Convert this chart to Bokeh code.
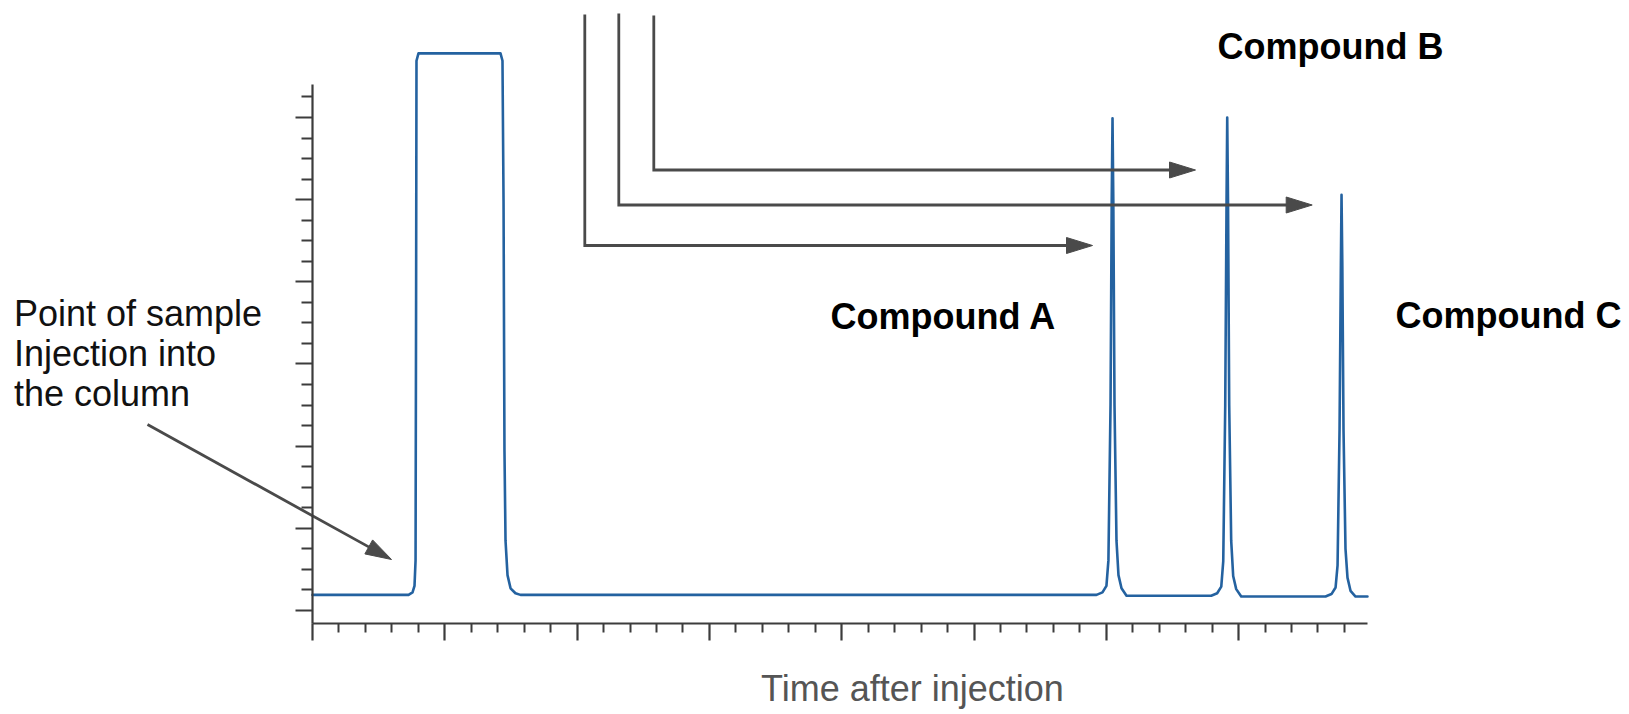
from bokeh.plotting import figure
from bokeh.models import Range1d, FixedTicker, CustomJSTickFormatter
from bokeh.core.properties import value
from bokeh.embed import file_html
from bokeh.resources import INLINE

# ---------------- data ----------------
# detector trace: injection pulse, then compounds A, B, C
time = [0.000, 0.726, 0.756, 0.771, 0.779, 0.783, 0.786, 0.801, 1.421, 1.436, 1.444, 1.451,
        1.459, 1.474, 1.497, 1.534, 1.572,
        5.926, 5.971, 6.001, 6.016, 6.032, 6.041, 6.047, 6.053, 6.062, 6.077, 6.092, 6.115, 6.153,
        6.793, 6.838, 6.869, 6.884, 6.899, 6.909, 6.914, 6.920, 6.929, 6.944, 6.959, 6.982, 7.020,
        7.657, 7.702, 7.733, 7.748, 7.763, 7.773, 7.778, 7.784, 7.793, 7.808, 7.823, 7.846, 7.884,
        7.974]
signal = [0.19, 0.19, 0.22, 0.30, 0.61, 3.77, 6.69, 6.78, 6.78, 6.69, 4.99, 1.95,
          0.85, 0.43, 0.27, 0.21, 0.19,
          0.19, 0.22, 0.30, 0.61, 2.50, 5.00, 5.99, 5.00, 2.50, 0.85, 0.43, 0.27, 0.18,
          0.18, 0.21, 0.29, 0.60, 2.50, 5.00, 6.00, 5.00, 2.50, 0.85, 0.42, 0.26, 0.17,
          0.17, 0.20, 0.28, 0.55, 2.20, 4.20, 5.06, 4.20, 2.20, 0.75, 0.40, 0.24, 0.17,
          0.17]

x_major = [0, 1, 2, 3, 4, 5, 6, 7]
y_major = [0, 1, 2, 3, 4, 5, 6]
x_minor = [k * 0.2 for k in range(40) if k % 5]
y_minor = [k * 0.25 for k in range(26) if k % 4]

compound_labels = ["Compound A", "Compound B", "Compound C"]
injection_lines = ["Point of sample", "Injection into", "the column"]
x_title = "Time after injection"

# ---------------- layout geometry (page pixels) ----------------
FIG_W, FIG_H = 1625, 712
X0_PX, Y0_PX = 312, 610          # page pixel of data x=0 / y=0
PX_PER_X, PX_PER_Y = 132.3, 82.17
X_AXIS_PX = 623                  # page y of the x axis
X_AXIS_END_PX = 1367
Y_AXIS_TOP_PX = 84
TEXT_LIFT = 11                   # text glyph baseline correction, pixels


def dx(px):
    return (px - X0_PX) / PX_PER_X


def dy(py):
    return (Y0_PX - py) / PX_PER_Y


def ty_(py):
    return dy(py - TEXT_LIFT)


p = figure(width=FIG_W, height=FIG_H,
           x_range=Range1d(dx(0), dx(FIG_W)), y_range=Range1d(dy(FIG_H), dy(0)),
           output_backend="svg", toolbar_location=None, min_border=0)
p.outline_line_color = None
p.grid.visible = False
p.background_fill_color = "white"
p.border_fill_color = "white"

AXIS_COLOR = "#3c3c3c"
blank = CustomJSTickFormatter(code="return ''")
for ax in (p.xaxis[0], p.yaxis[0]):
    ax.axis_line_color = AXIS_COLOR
    ax.axis_line_width = 2.2
    ax.major_tick_line_color = AXIS_COLOR
    ax.minor_tick_line_color = AXIS_COLOR
    ax.major_tick_line_width = 2.2
    ax.minor_tick_line_width = 2.0
    ax.major_tick_in = 0
    ax.minor_tick_in = 0
    ax.major_tick_out = 17
    ax.formatter = blank
    ax.major_label_text_font_size = "1px"

xa, ya = p.xaxis[0], p.yaxis[0]
xa.ticker = FixedTicker(ticks=x_major, minor_ticks=x_minor)
ya.ticker = FixedTicker(ticks=y_major, minor_ticks=y_minor)
xa.minor_tick_out = 9
ya.minor_tick_out = 11
xa.fixed_location = dy(X_AXIS_PX)
ya.fixed_location = 0
xa.bounds = (0, dx(X_AXIS_END_PX))
ya.bounds = (dy(X_AXIS_PX), dy(Y_AXIS_TOP_PX))

# trace
p.line(time, signal, line_color="#2462a0", line_width=2.6, line_join="round", line_cap="round")

# ---------------- annotations ----------------
ARROW_COLOR = "#4a4a4a"
HEAD_L, HEAD_HW = 26, 8
# (vertical x, top y, corner y, arrow tip x) in page pixels
leaders = [(584.3, 14, 245, 1092), (618.3, 13, 204.5, 1311.7), (653.3, 15, 169.5, 1195)]
head_xs, head_ys = [], []
for xv, top, corner, tip in leaders:
    p.line([dx(xv), dx(xv), dx(tip - HEAD_L + 2)], [dy(top), dy(corner), dy(corner)],
           line_color=ARROW_COLOR, line_width=2.8, line_join="miter")
    head_xs.append([dx(tip), dx(tip - HEAD_L), dx(tip - HEAD_L)])
    head_ys.append([dy(corner), dy(corner - HEAD_HW), dy(corner + HEAD_HW)])

# diagonal arrow to the injection point
sx0, sy0, tx, ty = 147, 424, 391, 559
vx, vy = tx - sx0, ty - sy0
ln = (vx * vx + vy * vy) ** 0.5
ux, uy = vx / ln, vy / ln
bx, by = tx - ux * HEAD_L, ty - uy * HEAD_L
p.line([dx(sx0), dx(bx + ux * 2)], [dy(sy0), dy(by + uy * 2)],
       line_color=ARROW_COLOR, line_width=2.8)
head_xs.append([dx(tx), dx(bx - uy * HEAD_HW), dx(bx + uy * HEAD_HW)])
head_ys.append([dy(ty), dy(by + ux * HEAD_HW), dy(by - ux * HEAD_HW)])
p.patches(head_xs, head_ys, fill_color=ARROW_COLOR, line_color=ARROW_COLOR, line_width=1)

FONT = value("Liberation Sans")
# compound labels: centre x, baseline y in page pixels
comp_x = [943, 1330, 1508]
comp_y = [327, 57, 326]
p.text(x=[dx(v) for v in comp_x], y=[ty_(v) for v in comp_y], text=compound_labels,
       text_font=FONT, text_font_size=value("36px"), text_font_style="bold",
       text_color="#000000", text_align="center", text_baseline="alphabetic")

inj_y = [324, 364, 404]
p.text(x=[dx(13.5)] * 3, y=[ty_(v) for v in inj_y], text=injection_lines,
       text_font=FONT, text_font_size=value("36px"),
       text_color="#111111", text_align="left", text_baseline="alphabetic")

p.text(x=[dx(912)], y=[ty_(699)], text=[x_title], text_font=FONT, text_font_size=value("36px"),
       text_color="#555555", text_align="center", text_baseline="alphabetic")

open("out.html", "w").write(file_html(p, INLINE))
